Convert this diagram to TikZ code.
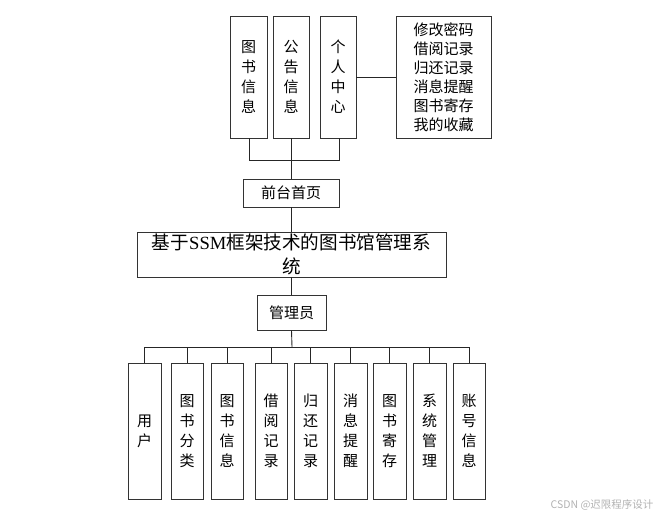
\documentclass[tikz,border=0pt]{standalone}
\usepackage{fontspec}
\setmainfont{Noto Sans CJK SC}
\newfontfamily\latinserif{Liberation Serif}
\begin{document}
\begin{tikzpicture}[x=1pt,y=-1pt,
  box/.style={draw=black!80,line width=0.9pt,fill=white,inner sep=0pt,align=center},
  vtext/.style={font=\fontsize{15}{20}\selectfont},
  conn/.style={draw=black!85,line width=0.9pt}]
\useasboundingbox (0,0) rectangle (664,519);
% top row
\node[box,vtext,minimum width=37pt,minimum height=122pt] (t1) at (248.5,77) {图\\书\\信\\息};
\node[box,vtext,minimum width=36pt,minimum height=122pt] (t2) at (291,77) {公\\告\\信\\息};
\node[box,vtext,minimum width=36pt,minimum height=122pt] (t3) at (338,77) {个\\人\\中\\心};
\node[box,font=\fontsize{15}{19}\selectfont,minimum width=95pt,minimum height=122pt] (t4) at (443.5,77) {修改密码\\借阅记录\\归还记录\\消息提醒\\图书寄存\\我的收藏};
\draw[conn] (t3.east) -- (t4.west);
\node[box,font=\fontsize{15}{19}\selectfont,minimum width=96pt,minimum height=28pt] (front) at (291,193) {前台首页};
\coordinate (b1) at (249,160);
\coordinate (b3) at (339,160);
\coordinate (bm) at (291,160);
\draw[conn] (t1.south -| b1) -- (b1) -- (b3) -- (t3.south -| b3);
\draw[conn] (t2.south -| bm) -- (front.north -| bm);
% main
\node[box,font=\fontsize{18.6}{24}\selectfont,minimum width=309pt,minimum height=45pt] (main) at (291.5,254.5) {基于{\latinserif SSM}框架技术的图书馆管理系\\统};
\draw[conn] (front.south -| main.north) -- (main.north);
\node[box,font=\fontsize{15}{19}\selectfont,minimum width=69pt,minimum height=35pt] (adm) at (291.5,312.5) {管理员};
\draw[conn] (main.south) -- (adm.north);
% bottom row
\coordinate (bus) at (292,347);
\foreach \n/\xl/\xr/\t in {
  u1/128/161/{用\\户},
  u2/171/203/{图\\书\\分\\类},
  u3/211/243/{图\\书\\信\\息},
  u4/255/287/{借\\阅\\记\\录},
  u5/294/327/{归\\还\\记\\录},
  u6/334/367/{消\\息\\提\\醒},
  u7/373/406/{图\\书\\寄\\存},
  u8/413/446/{系\\统\\管\\理},
  u9/453/485/{账\\号\\信\\息}}{
  \pgfmathsetmacro{\w}{\xr-\xl}
  \pgfmathsetmacro{\c}{(\xr+\xl)/2}
  \node[box,vtext,minimum width=\w pt,minimum height=136pt] (\n) at (\c,431) {\t};
  \draw[conn] (\n.north) -- (\n.north |- bus);
}
\draw[conn] (adm.south) -- (bus);
\draw[conn] (u1.north |- bus) -- (u9.north |- bus);
\node[font=\fontsize{10.5}{12}\selectfont,text=black!30,anchor=east] (wm) at (657,505) {CSDN @迟限程序设计};
\end{tikzpicture}
\end{document}
